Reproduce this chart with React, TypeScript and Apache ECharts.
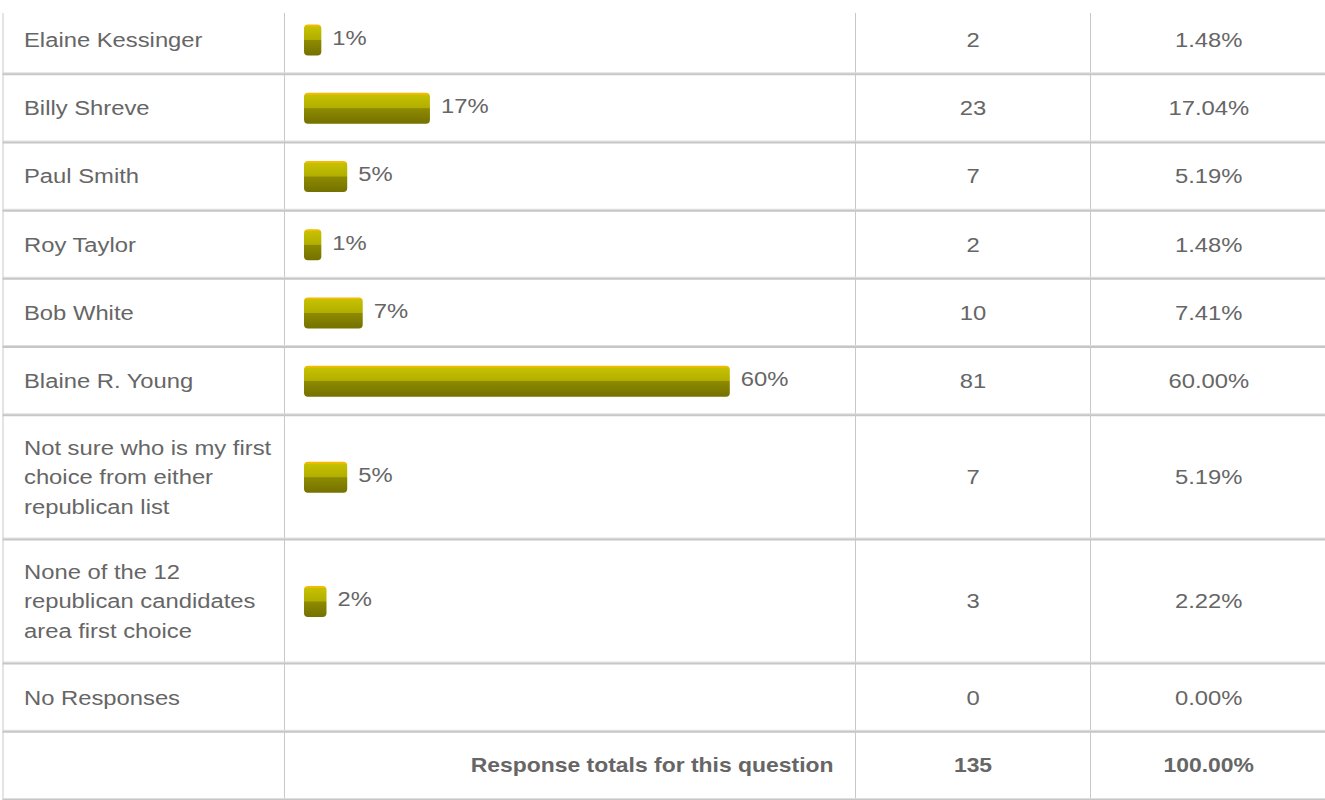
import React, { useEffect, useRef } from 'react';
import * as echarts from 'echarts';

const categories = [
  'Elaine Kessinger',
  'Billy Shreve',
  'Paul Smith',
  'Roy Taylor',
  'Bob White',
  'Blaine R. Young',
  'Not sure who is my first\nchoice from either\nrepublican list',
  'None of the 12\nrepublican candidates\narea first choice',
  'No Responses',
];
const counts = [2, 23, 7, 2, 10, 81, 7, 3, 0];
const percents = [1.48, 17.04, 5.19, 1.48, 7.41, 60.0, 5.19, 2.22, 0.0];
const totalLabel = 'Response totals for this question';
const totalCount = 135;
const totalPercent = 100.0;

const FONT = '"Liberation Sans", Arial, Helvetica, sans-serif';
const FS = 20;
const SX = 1.19;
const SX_BOLD = 1.146;
const TXT = '#666666';

export default function App() {
  const ref = useRef<HTMLDivElement>(null);
  useEffect(() => {
    if (!ref.current) return;
    const chart = echarts.init(ref.current, undefined, { renderer: 'svg' });

    // rows: data rows + totals row
    const lines = categories.map((c) => c.split('\n').length).concat([1]);
    const units = lines.map((n) => 1 + (n - 1) * 0.41);
    const tops: number[] = [];
    let acc = 0;
    units.forEach((u) => {
      tops.push(acc);
      acc += u;
    });
    const totalUnits = acc;
    const rowData = units.map((u, i) => [
      i < percents.length ? percents[i] : totalPercent,
      tops[i],
      tops[i] + u,
      i,
    ]);

    const barFill = new echarts.graphic.LinearGradient(0, 0, 0, 1, [
      { offset: 0, color: '#f7b900' },
      { offset: 0.05, color: '#f2bc00' },
      { offset: 0.07, color: '#c5c100' },
      { offset: 0.49, color: '#b2ae00' },
      { offset: 0.51, color: '#8d8a00' },
      { offset: 1, color: '#747100' },
    ]);

    const txt = (x: number, y: number, text: string, align: string, bold = false) => ({
      type: 'text',
      x,
      y,
      scaleX: bold ? SX_BOLD : SX,
      style: {
        text,
        x: 0,
        y: 0,
        fill: TXT,
        font: `${bold ? 'bold ' : ''}${FS}px ${FONT}`,
        align,
        verticalAlign: 'middle',
        lineHeight: 29.5,
      },
    });

    const option: any = {
      animation: false,
      grid: { left: 311, right: 316, top: 6, bottom: 0 },
      xAxis: { type: 'value', min: 0, max: 100, show: false },
      yAxis: { type: 'value', min: 0, max: totalUnits, inverse: true, show: false },
      series: [
        {
          type: 'custom',
          clip: false,
          data: rowData,
          encode: { x: 0, y: 1 },
          renderItem: (params: any, api: any) => {
            const i = api.value(3);
            const pct = api.value(0);
            const top = api.coord([0, api.value(1)])[1];
            const bottom = api.coord([0, api.value(2)])[1];
            const x0 = api.coord([0, 0])[0];
            const xp = api.coord([pct, 0])[0];
            const W = api.getWidth();
            const mid = (top + bottom) / 2;
            const xL = 3;
            const c1 = 284.5;
            const c2 = 855.5;
            const c3 = 1090.5;
            const vTop = i === 0 ? top + 7 : top;
            const isTotal = i >= categories.length;
            const children: any[] = [];
            [xL, c1, c2, c3].forEach((vx) => {
              children.push({
                type: 'line',
                shape: { x1: vx, y1: vTop, x2: vx, y2: bottom },
                style: { stroke: '#c8c8c8', lineWidth: 1 },
              });
            });
            children.push({
              type: 'rect',
              shape: { x: xL - 0.5, y: bottom - 2, width: W, height: 1 },
              style: { fill: '#dedede' },
            });
            children.push({
              type: 'rect',
              shape: { x: xL - 0.5, y: bottom - 1, width: W, height: 2 },
              style: { fill: '#c6c6c6' },
            });
            if (!isTotal) {
              children.push(txt(24, mid, categories[i], 'left'));
              if (pct > 0) {
                children.push({
                  type: 'rect',
                  shape: { x: x0 - 7, y: mid - 15.5, width: xp - x0 + 7, height: 31, r: 4 },
                  style: { fill: barFill },
                });
                children.push(txt(xp + 11, mid - 2, `${Math.round(pct)}%`, 'left'));
              }
              children.push(txt((c2 + c3) / 2, mid, String(counts[i]), 'center'));
              children.push(txt((c3 + W) / 2 + 1, mid, `${pct.toFixed(2)}%`, 'center'));
            } else {
              children.push(txt(c2 - 22, mid, totalLabel, 'right', true));
              children.push(txt((c2 + c3) / 2, mid, String(totalCount), 'center', true));
              children.push(txt((c3 + W) / 2 + 1, mid, `${totalPercent.toFixed(2)}%`, 'center', true));
            }
            return { type: 'group', children };
          },
        },
      ],
    };
    chart.setOption(option);
    return () => chart.dispose();
  }, []);
  return (
    <div
      ref={ref}
      style={{ position: 'absolute', left: 0, top: 0, width: 1325, height: 800, background: '#fff' }}
    />
  );
}
